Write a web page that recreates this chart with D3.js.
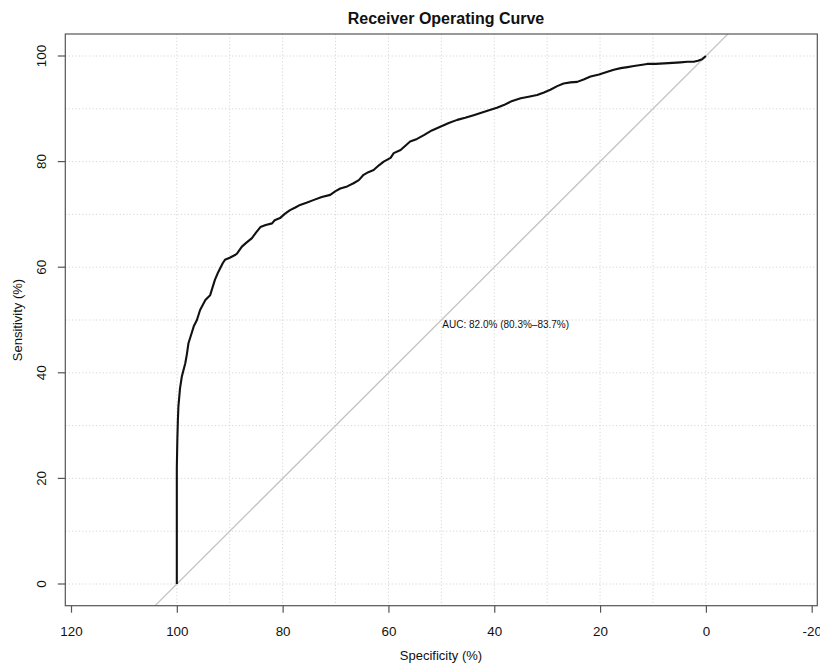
<!DOCTYPE html>
<html>
<head>
<meta charset="utf-8">
<script src="https://cdn.jsdelivr.net/npm/d3@7"></script>
<style>
  html, body { margin: 0; padding: 0; background: #fff; overflow: hidden; }
  svg text { font-family: "Liberation Sans", Arial, Helvetica, sans-serif; fill: #111; }
</style>
</head>
<body>
<svg id="chart" width="820" height="668"></svg>
<script>
// ROC curve points: specificity (%) and matching sensitivity (%)
const specificity = [
  100, 100, 100, 99.9, 99.8, 99.7, 99.4, 99.05, 98.4, 98.1,
  97.8, 97.2, 96.8, 96.2, 95.6, 94.6, 93.7, 93.3, 92.8, 92.3,
  91.8, 91.3, 90.9, 90.0, 89.0, 88.6, 87.7, 86.9, 85.8, 85.0,
  84.2, 83.2, 82.0, 81.5, 80.5, 79.6, 78.6, 77.6, 76.7, 75.5,
  74.2, 72.6, 71.0, 70.0, 69.1, 67.8, 66.6, 65.6, 64.7, 63.8,
  62.8, 61.8, 60.9, 59.6, 59.0, 57.7, 56.8, 55.9, 54.6, 53.3,
  51.8, 50.2, 48.6, 47.0, 45.5, 43.9, 42.3, 40.7, 39.5, 38.2,
  36.6, 35.0, 33.5, 31.9, 30.6, 29.4, 28.1, 26.9, 25.6, 24.3,
  23.0, 21.8, 20.2, 18.6, 17.4, 16.1, 14.8, 13.6, 12.3, 11.1,
  9.5, 7.9, 6.3, 4.8, 3.5, 2.3, 1.5, 0.7, 0
];
const sensitivity = [
  0, 10, 22, 27.3, 31, 33.6, 37, 39.3, 41.8, 43.5,
  45.6, 47.5, 48.8, 50, 51.9, 53.8, 54.7, 56.0, 57.6, 58.8,
  59.8, 60.8, 61.4, 61.8, 62.3, 62.6, 63.9, 64.6, 65.5, 66.6,
  67.6, 68.0, 68.3, 68.9, 69.3, 70.1, 70.8, 71.3, 71.8, 72.2,
  72.7, 73.3, 73.7, 74.4, 74.9, 75.3, 75.9, 76.5, 77.5, 78.0,
  78.4, 79.3, 80.0, 80.7, 81.6, 82.2, 83.0, 83.8, 84.3, 85.0,
  85.9, 86.6, 87.3, 87.9, 88.3, 88.8, 89.3, 89.8, 90.2, 90.7,
  91.5, 92.0, 92.3, 92.6, 93.1, 93.6, 94.3, 94.8, 95.0, 95.1,
  95.6, 96.1, 96.5, 97.0, 97.4, 97.7, 97.9, 98.1, 98.3, 98.5,
  98.5, 98.6, 98.7, 98.8, 98.9, 98.9, 99.1, 99.4, 100
];

// Axis ticks and grid positions
const xTicks = [120, 100, 80, 60, 40, 20, 0, -20];
const yTicks = [0, 20, 40, 60, 80, 100];
const xGrid = [100, 90, 80, 70, 60, 50, 40, 30, 20, 10, 0];
const yGrid = [0, 10, 20, 30, 40, 50, 60, 70, 80, 90, 100];

const titleText = "Receiver Operating Curve";
const xLabel = "Specificity (%)";
const yLabel = "Sensitivity (%)";
const aucText = "AUC: 82.0% (80.3%\u201383.7%)";

const svg = d3.select("#chart");
const box = { left: 65.3, right: 817.3, top: 34, bottom: 605.7 };

// specificity axis is reversed (100 on the left, 0 on the right)
const x = d3.scaleLinear().domain([120, -20]).range([71, 811.7]);
const y = d3.scaleLinear().domain([0, 100]).range([584, 56]);

svg.append("defs").append("clipPath").attr("id", "plotclip")
  .append("rect")
  .attr("x", box.left).attr("y", box.top)
  .attr("width", box.right - box.left).attr("height", box.bottom - box.top);

// dotted grid
const grid = svg.append("g").attr("stroke", "#d6d6d6").attr("stroke-width", 1)
  .attr("stroke-dasharray", "1.2,2.2");
grid.selectAll("line.v").data(xGrid).join("line").attr("class", "v")
  .attr("x1", d => x(d)).attr("x2", d => x(d))
  .attr("y1", box.top).attr("y2", box.bottom);
grid.selectAll("line.h").data(yGrid).join("line").attr("class", "h")
  .attr("x1", box.left).attr("x2", box.right)
  .attr("y1", d => y(d)).attr("y2", d => y(d));

// chance diagonal, clipped to the plot region
svg.append("line")
  .attr("clip-path", "url(#plotclip)")
  .attr("x1", x(130)).attr("y1", y(-30))
  .attr("x2", x(-30)).attr("y2", y(130))
  .attr("stroke", "#c4c4c4").attr("stroke-width", 1.3);

// ROC curve
const pts = specificity.map((s, i) => [s, sensitivity[i]]);
svg.append("path")
  .datum(pts)
  .attr("fill", "none")
  .attr("stroke", "#111")
  .attr("stroke-width", 2.1)
  .attr("stroke-linejoin", "round")
  .attr("d", d3.line().x(d => x(d[0])).y(d => y(d[1])));

// plot frame
svg.append("rect")
  .attr("x", box.left).attr("y", box.top)
  .attr("width", box.right - box.left).attr("height", box.bottom - box.top)
  .attr("fill", "none").attr("stroke", "#555").attr("stroke-width", 1.2);

// bottom axis (plain hyphen for negative labels)
const xAxis = d3.axisBottom(x).tickValues(xTicks).tickSize(7).tickPadding(12)
  .tickFormat(d => String(d));
const gx = svg.append("g").attr("transform", `translate(0,${box.bottom})`).call(xAxis);
gx.select(".domain").remove();
gx.selectAll(".tick line").attr("stroke", "#555").attr("stroke-width", 1.2);
gx.selectAll(".tick text").attr("font-size", 13.4).attr("fill", "#111")
  .attr("font-family", "Liberation Sans, Arial, sans-serif")
  .attr("dy", null).attr("y", 30);

// left axis with rotated labels
const gy = svg.append("g");
gy.selectAll("line").data(yTicks).join("line")
  .attr("x1", box.left - 7.5).attr("x2", box.left)
  .attr("y1", d => y(d)).attr("y2", d => y(d))
  .attr("stroke", "#555").attr("stroke-width", 1.2);
gy.selectAll("text").data(yTicks).join("text")
  .attr("transform", d => `translate(46,${y(d)}) rotate(-90)`)
  .attr("text-anchor", "middle")
  .attr("font-size", 13.4)
  .text(d => d);

// title and axis labels
svg.append("text")
  .attr("x", 446).attr("y", 24)
  .attr("text-anchor", "middle")
  .attr("font-size", 16).attr("font-weight", "bold")
  .text(titleText);
svg.append("text")
  .attr("x", 441).attr("y", 660)
  .attr("text-anchor", "middle")
  .attr("font-size", 13)
  .text(xLabel);
svg.append("text")
  .attr("transform", `translate(22,320) rotate(-90)`)
  .attr("text-anchor", "middle")
  .attr("font-size", 13)
  .text(yLabel);

// AUC annotation anchored at (50, 50)
svg.append("text")
  .attr("x", x(50) + 1).attr("y", y(50) + 8)
  .attr("font-size", 10)
  .text(aucText);
</script>
</body>
</html>
